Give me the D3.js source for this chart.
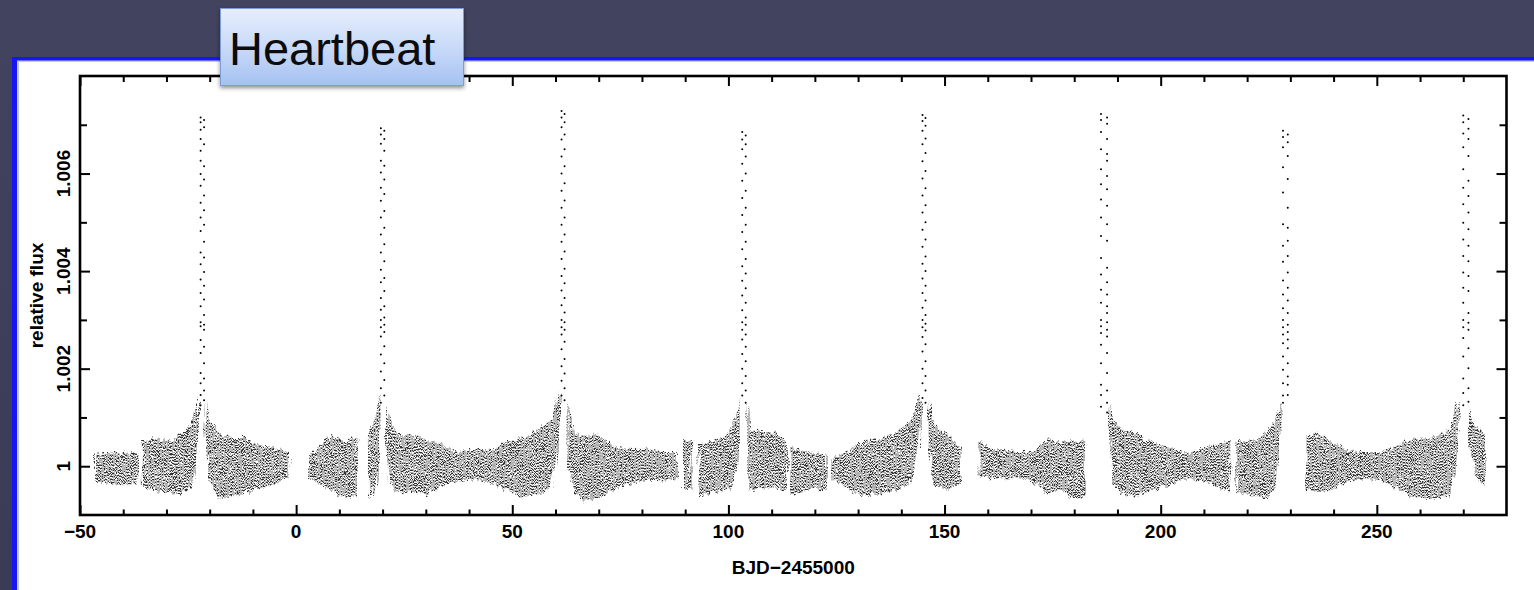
<!DOCTYPE html>
<html><head><meta charset="utf-8">
<script src="https://cdn.jsdelivr.net/npm/d3@7"></script>
<style>html,body{margin:0;padding:0;background:#3c3d58;overflow:hidden} svg{display:block}</style>
</head><body>
<svg id="chart" width="1534" height="590"></svg>
<script>
// ---------------- data ----------------
const titleText = "Heartbeat";
const xLabel = "BJD\u22122455000";
const yLabel = "relative flux";
const xMajorTicks = [-50, 0, 50, 100, 150, 200, 250];
const xTickLabels = ["\u221250", "0", "50", "100", "150", "200", "250"];
const xMinorTicks = [-40, -30, -20, -10, 10, 20, 30, 40, 60, 70, 80, 90, 110, 120, 130, 140, 160, 170, 180, 190, 210, 220, 230, 240, 260, 270];
const yMajorTicks = [1, 1.002, 1.004, 1.006];
const yTickLabels = ["1", "1.002", "1.004", "1.006"];
const yMinorTicks = [1.001, 1.003, 1.005, 1.007];

// scatter band of the light curve: time, upper and lower extent (flux - 1, in units of 1e-3); null = data gap
const bandTime = [-46.5, -44, -41.5, -39, -36.5, null,
  -35.5, -33.0, -29.9, -27.6, -25.7, -24.5, -23.4, -22.5, null,
  -21.0, -20.3, -19.1, -17.6, -15.3, -12.2, -9.1, -6.0, -1.8, null,
  2.8, 4.8, 7.8, 10.9, 14.2, null,
  16.6, 17.8, 18.9, 19.5, null,
  20.8, 21.4, 22.5, 24.0, 27.1, 30.2, 33.3, 37.2, 41.8, 45.6, 48.7, 51.8, 54.9, 57.2, 58.8, 59.9, 61.0, null,
  62.8, 64.5, 66.5, 69.6, 73.4, 77.3, 81.1, 85.0, 88.3, null,
  89.5, 91.6, null,
  93.1, 95.8, 98.9, 100.8, 102.0, 102.8, null,
  104.4, 105.4, 108.1, 111.2, 113.5, null,
  114.3, 118.1, 122.8, null,
  124.0, 127.4, 131.3, 135.1, 139.0, 142.1, 143.6, 144.5, null,
  146.3, 147.5, 149.8, 152.1, 154.0, null,
  157.9, 160.6, 165.2, 166.7, 170.6, 173.7, 176.8, 179.9, 182.5, null,
  187.9, 189.1, 191.4, 193.7, 196.8, 201.4, 206.1, 210.7, 216.1, null,
  217.5, 221.5, 224.6, 226.5, 227.7, null,
  233.7, 236.2, 239.2, 243.1, 247.0, 250.8, 254.7, 258.5, 262.4, 266.2, 267.8, 268.9, null,
  271.3, 272.4, 274.0, 275.1];
const bandUpper = [0.25, 0.27, 0.28, 0.27, 0.30, null,
  0.53, 0.57, 0.50, 0.57, 0.74, 0.88, 1.15, 1.45, null,
  1.30, 1.00, 0.81, 0.66, 0.60, 0.60, 0.45, 0.40, 0.29, null,
  0.23, 0.33, 0.64, 0.53, 0.57, null,
  0.60, 0.85, 1.30, 1.50, null,
  1.29, 1.08, 0.81, 0.64, 0.64, 0.53, 0.47, 0.29, 0.36, 0.33, 0.53, 0.57, 0.67, 0.81, 0.95, 1.22, 1.50, null,
  1.36, 0.70, 0.60, 0.67, 0.40, 0.36, 0.36, 0.29, 0.29, null,
  0.53, 0.53, null,
  0.47, 0.50, 0.60, 0.78, 1.15, 1.43, null,
  1.29, 0.74, 0.71, 0.67, 0.47, null,
  0.40, 0.29, 0.23, null,
  0.16, 0.29, 0.53, 0.57, 0.67, 0.95, 1.29, 1.50, null,
  1.36, 0.91, 0.67, 0.53, 0.29, null,
  0.53, 0.36, 0.33, 0.29, 0.29, 0.57, 0.50, 0.53, 0.50, null,
  1.29, 0.95, 0.71, 0.71, 0.53, 0.40, 0.26, 0.40, 0.53, null,
  0.53, 0.53, 0.67, 0.95, 1.36, null,
  0.64, 0.67, 0.53, 0.33, 0.29, 0.29, 0.43, 0.57, 0.60, 0.71, 0.95, 1.36, null,
  1.29, 0.88, 0.71, 0.67];
const bandLower = [-0.33, -0.36, -0.38, -0.37, -0.38, null,
  -0.39, -0.49, -0.55, -0.58, -0.52, -0.45, -0.10, 0.70, null,
  0.67, -0.29, -0.45, -0.67, -0.63, -0.56, -0.49, -0.39, -0.25, null,
  -0.22, -0.36, -0.49, -0.63, -0.63, null,
  -0.63, -0.60, -0.20, 0.80, null,
  0.53, -0.29, -0.49, -0.56, -0.53, -0.60, -0.40, -0.32, -0.25, -0.36, -0.49, -0.63, -0.60, -0.56, -0.49, 0.00, 0.80, null,
  0.10, -0.56, -0.70, -0.67, -0.49, -0.36, -0.29, -0.32, -0.25, null,
  -0.46, -0.46, null,
  -0.63, -0.56, -0.49, -0.43, 0.00, 0.88, null,
  -0.50, -0.49, -0.43, -0.46, -0.49, null,
  -0.60, -0.49, -0.46, null,
  -0.29, -0.43, -0.63, -0.56, -0.49, -0.39, 0.19, 0.80, null,
  0.40, -0.36, -0.46, -0.46, -0.29, null,
  -0.19, -0.25, -0.25, -0.25, -0.32, -0.56, -0.49, -0.67, -0.63, null,
  0.74, -0.39, -0.56, -0.63, -0.56, -0.39, -0.25, -0.32, -0.53, null,
  -0.56, -0.60, -0.67, -0.43, 0.67, null,
  -0.49, -0.53, -0.49, -0.32, -0.25, -0.29, -0.49, -0.63, -0.67, -0.63, -0.29, 0.40, null,
  0.47, -0.15, -0.39, -0.36];

// periastron brightenings: time of rising and falling branch, and the points on each (flux - 1, units of 1e-3)
const peakRiseTime = [-22.1, 19.6, 61.4, 103.2, 144.9, 186.2, 228.3, 270.0];
const peakFallTime = [-21.3, 20.4, 62.1, 104.0, 145.6, 187.6, 229.4, 271.2];
const peakRise = [
  [7.15, 7.05, 6.9, 6.71, 6.47, 6.26, 5.99, 5.75, 5.40, 5.10, 4.82, 4.38, 4.14, 3.83, 3.55, 3.28, 2.95, 2.87, 2.59, 2.32, 1.91, 1.70, 1.46, 1.25],
  [6.93, 6.80, 6.61, 6.26, 6.02, 5.71, 5.44, 5.10, 4.75, 4.38, 4.03, 3.77, 3.45, 3.21, 3.00, 2.85, 2.66, 2.29, 1.94, 1.60, 1.30],
  [7.28, 7.15, 6.95, 6.70, 6.35, 6.00, 5.65, 5.30, 4.95, 4.60, 4.25, 3.90, 3.60, 3.30, 3.00, 2.85, 2.70, 2.40, 2.05, 1.75, 1.45],
  [6.85, 6.70, 6.50, 6.20, 5.85, 5.50, 5.15, 4.80, 4.45, 4.10, 3.80, 3.50, 3.20, 2.95, 2.80, 2.60, 2.30, 2.00, 1.70, 1.45],
  [7.20, 7.08, 6.88, 6.60, 6.25, 5.90, 5.55, 5.20, 4.85, 4.50, 4.15, 3.85, 3.55, 3.25, 3.00, 2.85, 2.65, 2.35, 2.00, 1.70, 1.40],
  [7.22, 7.10, 6.85, 6.50, 6.09, 5.78, 5.47, 5.10, 4.72, 4.27, 3.93, 3.62, 3.35, 3.00, 2.87, 2.73, 2.49, 2.11, 1.67, 1.46, 1.22],
  [6.88, 6.75, 6.54, 6.13, 5.61, 4.96, 4.52, 4.19, 3.81, 3.52, 3.24, 3.00, 2.85, 2.70, 2.52, 2.25, 1.98, 1.70, 1.45, 1.30],
  [7.19, 7.05, 6.82, 6.54, 6.09, 5.71, 5.37, 4.99, 4.65, 4.31, 3.97, 3.66, 3.35, 3.00, 2.85, 2.63, 2.25, 1.80, 1.50, 1.25]
];
const peakFall = [
  [7.10, 6.95, 6.60, 6.15, 5.88, 5.55, 5.25, 4.95, 4.60, 4.28, 3.98, 3.70, 3.42, 3.10, 2.90, 2.80, 2.45, 2.11, 1.80, 1.55, 1.35],
  [6.88, 6.71, 6.47, 6.16, 5.88, 5.58, 5.23, 4.89, 4.55, 4.20, 3.86, 3.59, 3.28, 3.05, 2.90, 2.75, 2.46, 2.11, 1.77, 1.45],
  [7.22, 7.05, 6.80, 6.50, 6.15, 5.80, 5.45, 5.10, 4.75, 4.40, 4.05, 3.75, 3.45, 3.15, 2.95, 2.80, 2.55, 2.20, 1.90, 1.60, 1.35],
  [6.78, 6.60, 6.35, 6.00, 5.65, 5.30, 4.95, 4.60, 4.25, 3.95, 3.65, 3.35, 3.05, 2.90, 2.70, 2.45, 2.15, 1.85, 1.55, 1.30],
  [7.14, 6.98, 6.72, 6.42, 6.05, 5.70, 5.35, 5.00, 4.65, 4.30, 4.00, 3.70, 3.40, 3.10, 2.92, 2.78, 2.50, 2.15, 1.85, 1.55, 1.30],
  [7.15, 7.02, 6.71, 6.40, 6.26, 5.95, 5.68, 5.34, 4.96, 4.62, 4.07, 3.77, 3.52, 3.28, 3.14, 2.95, 2.80, 2.66, 2.32, 1.91, 1.55, 1.30, 1.10],
  [6.80, 6.64, 6.36, 5.89, 5.30, 4.89, 4.62, 4.31, 3.97, 3.66, 3.40, 3.14, 2.90, 2.75, 2.60, 2.42, 2.11, 1.84, 1.67, 1.46],
  [7.12, 6.92, 6.71, 6.36, 5.85, 5.54, 5.20, 4.86, 4.52, 4.20, 3.90, 3.59, 3.14, 2.94, 2.80, 2.42, 2.01, 1.60, 1.32]
];

// ---------------- drawing ----------------
const svg = d3.select("#chart");
const W = 1534, H = 590;
const toFlux = v => 1 + v / 1000;

const defs = svg.append("defs");
const bg = defs.append("linearGradient").attr("id", "bgGrad").attr("x1", 0).attr("y1", 0).attr("x2", 0).attr("y2", 1);
bg.append("stop").attr("offset", "0%").attr("stop-color", "#42435f");
bg.append("stop").attr("offset", "100%").attr("stop-color", "#3a3b55");
const boxGrad = defs.append("linearGradient").attr("id", "boxGrad").attr("x1", 0).attr("y1", 0).attr("x2", 0).attr("y2", 1);
boxGrad.append("stop").attr("offset", "0%").attr("stop-color", "#e6eefc");
boxGrad.append("stop").attr("offset", "55%").attr("stop-color", "#c6d8f8");
boxGrad.append("stop").attr("offset", "100%").attr("stop-color", "#a5c1f1");
const shadow = defs.append("filter").attr("id", "shadow").attr("x", "-10%").attr("y", "-10%").attr("width", "130%").attr("height", "140%");
shadow.append("feDropShadow").attr("dx", 0).attr("dy", 2).attr("stdDeviation", 2).attr("flood-color", "#000").attr("flood-opacity", 0.45);
// dot texture for the dense scatter band
const pat = defs.append("pattern").attr("id", "dots").attr("patternUnits", "userSpaceOnUse").attr("width", 3).attr("height", 3);
pat.append("circle").attr("cx", 0.75).attr("cy", 0.75).attr("r", 0.72).attr("fill", "#000");
pat.append("circle").attr("cx", 2.25).attr("cy", 2.25).attr("r", 0.72).attr("fill", "#000");
// ragged, streaky edges like vertical columns of scattered points
const rough = defs.append("filter").attr("id", "rough").attr("x", "-2%").attr("y", "-30%").attr("width", "104%").attr("height", "160%");
rough.append("feTurbulence").attr("type", "fractalNoise").attr("baseFrequency", "0.35 0.04").attr("numOctaves", 2).attr("seed", 3).attr("result", "noise");
rough.append("feDisplacementMap").attr("in", "SourceGraphic").attr("in2", "noise").attr("scale", 9).attr("xChannelSelector", "B").attr("yChannelSelector", "R");

// background and slide panel
svg.append("rect").attr("width", W).attr("height", H).attr("fill", "url(#bgGrad)");
svg.append("rect").attr("x", 12).attr("y", 57).attr("width", W - 12).attr("height", H - 57).attr("fill", "#1616f5");
svg.append("rect").attr("x", 17).attr("y", 60.5).attr("width", W - 17).attr("height", H - 60.5).attr("fill", "#c4c4f6");
svg.append("rect").attr("x", 19).attr("y", 62).attr("width", W - 19).attr("height", H - 62).attr("fill", "#ffffff");

// scales
const x = d3.scaleLinear().domain([-50, 280]).range([80, 1506.5]);
const y = d3.scaleLinear().domain([0.999, 1.008]).range([515, 76]);

// band
const band = bandTime.map((t, i) => ({ t: t, u: bandUpper[i], l: bandLower[i] }));
const area = d3.area()
  .defined(d => d.t !== null)
  .x(d => x(d.t))
  .y0(d => y(toFlux(d.l)))
  .y1(d => y(toFlux(d.u)));
svg.append("path").datum(band).attr("d", area).attr("fill", "url(#dots)").attr("filter", "url(#rough)");

// peak points
const peakPts = [];
peakRiseTime.forEach((t, i) => peakRise[i].forEach(v => peakPts.push({ t: t, v: v })));
peakFallTime.forEach((t, i) => peakFall[i].forEach(v => peakPts.push({ t: t, v: v })));
svg.append("g").selectAll("circle").data(peakPts).join("circle")
  .attr("cx", d => x(d.t)).attr("cy", d => y(toFlux(d.v))).attr("r", 1).attr("fill", "#000");

// axes (inward ticks on all four sides)
const axisStyle = g => { g.select(".domain").remove(); g.selectAll("line").attr("stroke", "#000").attr("stroke-width", 2); g.selectAll("text").remove(); };
svg.append("g").attr("transform", "translate(0,515)").call(d3.axisBottom(x).tickValues(xMajorTicks).tickSize(-10)).call(axisStyle);
svg.append("g").attr("transform", "translate(0,515)").call(d3.axisBottom(x).tickValues(xMinorTicks).tickSize(-5.5)).call(axisStyle);
svg.append("g").attr("transform", "translate(0,76)").call(d3.axisTop(x).tickValues(xMajorTicks).tickSize(-10)).call(axisStyle);
svg.append("g").attr("transform", "translate(0,76)").call(d3.axisTop(x).tickValues(xMinorTicks).tickSize(-6)).call(axisStyle);
svg.append("g").attr("transform", "translate(80,0)").call(d3.axisLeft(y).tickValues(yMajorTicks).tickSize(-10)).call(axisStyle);
svg.append("g").attr("transform", "translate(80,0)").call(d3.axisLeft(y).tickValues(yMinorTicks).tickSize(-7)).call(axisStyle);
svg.append("g").attr("transform", "translate(1506.5,0)").call(d3.axisRight(y).tickValues(yMajorTicks).tickSize(-10)).call(axisStyle);
svg.append("g").attr("transform", "translate(1506.5,0)").call(d3.axisRight(y).tickValues(yMinorTicks).tickSize(-7)).call(axisStyle);

svg.append("rect").attr("x", 80).attr("y", 76).attr("width", 1426.5).attr("height", 439)
  .attr("fill", "none").attr("stroke", "#000").attr("stroke-width", 2.6);

const fontFam = "'Liberation Sans', Arial, Helvetica, sans-serif";
svg.append("g").selectAll("text").data(xMajorTicks).join("text")
  .attr("x", d => x(d)).attr("y", 538).attr("text-anchor", "middle")
  .attr("font-family", fontFam).attr("font-weight", "bold").attr("font-size", 19).attr("fill", "#000")
  .text((d, i) => xTickLabels[i]);
svg.append("g").selectAll("text").data(yMajorTicks).join("text")
  .attr("transform", d => `translate(70,${y(d)}) rotate(-90)`).attr("text-anchor", "middle")
  .attr("font-family", fontFam).attr("font-weight", "bold").attr("font-size", 19).attr("fill", "#000")
  .text((d, i) => yTickLabels[i]);
svg.append("text").attr("x", (x.range()[0] + x.range()[1]) / 2).attr("y", 574).attr("text-anchor", "middle")
  .attr("font-family", fontFam).attr("font-weight", "bold").attr("font-size", 19).attr("fill", "#000").text(xLabel);
svg.append("text").attr("transform", `translate(43,${(y.range()[0] + y.range()[1]) / 2}) rotate(-90)`).attr("text-anchor", "middle")
  .attr("font-family", fontFam).attr("font-weight", "bold").attr("font-size", 19).attr("fill", "#000").text(yLabel);

// title callout
svg.append("rect").attr("x", 220.5).attr("y", 8.5).attr("width", 243).attr("height", 77)
  .attr("fill", "url(#boxGrad)").attr("stroke", "#7e9dd6").attr("stroke-width", 1).attr("filter", "url(#shadow)");
svg.append("text").attr("x", 229).attr("y", 65).attr("font-family", fontFam).attr("font-size", 47).attr("fill", "#0c0c0c").text(titleText);
</script>
</body></html>
